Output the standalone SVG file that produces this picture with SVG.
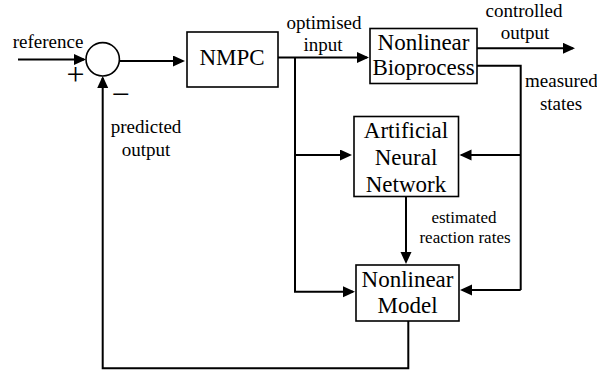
<svg xmlns="http://www.w3.org/2000/svg" width="597" height="374" viewBox="0 0 597 374">
<defs>
<style>
text{font-family:"Liberation Serif","DejaVu Serif",serif}
.box{fill:#fff;stroke:#000;stroke-width:1.6}
.bt{font-size:23px;text-anchor:middle}
.lb{font-size:19px;text-anchor:middle}
.sm{font-size:17px;text-anchor:middle}
.ln{fill:none;stroke:#000;stroke-width:2}
.ar{marker-end:url(#ah)}
</style>
<marker id="ah" markerUnits="userSpaceOnUse" markerWidth="13" markerHeight="12" refX="10" refY="5.5" orient="auto">
<path d="M0,0 L12,5.5 L0,11 Z" fill="#000"/>
</marker>
</defs>
<rect width="597" height="374" fill="#fff"/>
<g id="connectors">
<path class="ln ar" d="M18,59.5 H84"/>
<path class="ln ar" d="M119.5,61 H183"/>
<path class="ln ar" d="M278,57.5 H367"/>
<path class="ln ar" d="M477,48.3 H573"/>
<path class="ln" d="M477,65.7 H520.7 V290"/>
<path class="ln ar" d="M295,57.5 V291.7 H353"/>
<path class="ln ar" d="M295,155 H350"/>
<path class="ln ar" d="M520.7,155 H461.5"/>
<path class="ln ar" d="M520.7,290 H462"/>
<path class="ln ar" d="M406,197 V262"/>
<path class="ln ar" d="M408.3,321 V368.3 H102.7 V78"/>
</g>
<g id="sum">
<circle cx="102.7" cy="59.3" r="16.7" fill="#fff" stroke="#000" stroke-width="1.6"/>
<text x="75.5" y="85" font-size="32" text-anchor="middle">+</text>
<text x="120.5" y="105" font-size="32" text-anchor="middle">−</text>
</g>
<g id="nmpc">
<rect class="box" x="187" y="32" width="91" height="55"/>
<text class="bt" x="232" y="65">NMPC</text>
</g>
<g id="bioprocess">
<rect class="box" x="370" y="28.5" width="107" height="55"/>
<text class="bt" x="423.5" y="50">Nonlinear</text>
<text class="bt" x="423.5" y="75">Bioprocess</text>
</g>
<g id="ann">
<rect class="box" x="354" y="116.5" width="104.5" height="80"/>
<text class="bt" x="406" y="138">Artificial</text>
<text class="bt" x="406" y="165">Neural</text>
<text class="bt" x="406" y="191.5">Network</text>
</g>
<g id="model">
<rect class="box" x="356" y="265" width="103" height="56"/>
<text class="bt" x="407.5" y="287">Nonlinear</text>
<text class="bt" x="407.5" y="313">Model</text>
</g>
<g id="labels">
<text class="lb" x="48" y="48">reference</text>
<text class="lb" x="146" y="133">predicted</text>
<text class="lb" x="146" y="156">output</text>
<text class="lb" x="324" y="29">optimised</text>
<text class="lb" x="323" y="51">input</text>
<text class="lb" x="524" y="17">controlled</text>
<text class="lb" x="525" y="39">output</text>
<text x="525" y="87" font-size="19">measured</text>
<text class="lb" x="561" y="110">states</text>
<text class="sm" x="464" y="223">estimated</text>
<text class="sm" x="465" y="243">reaction rates</text>
</g>
</svg>
